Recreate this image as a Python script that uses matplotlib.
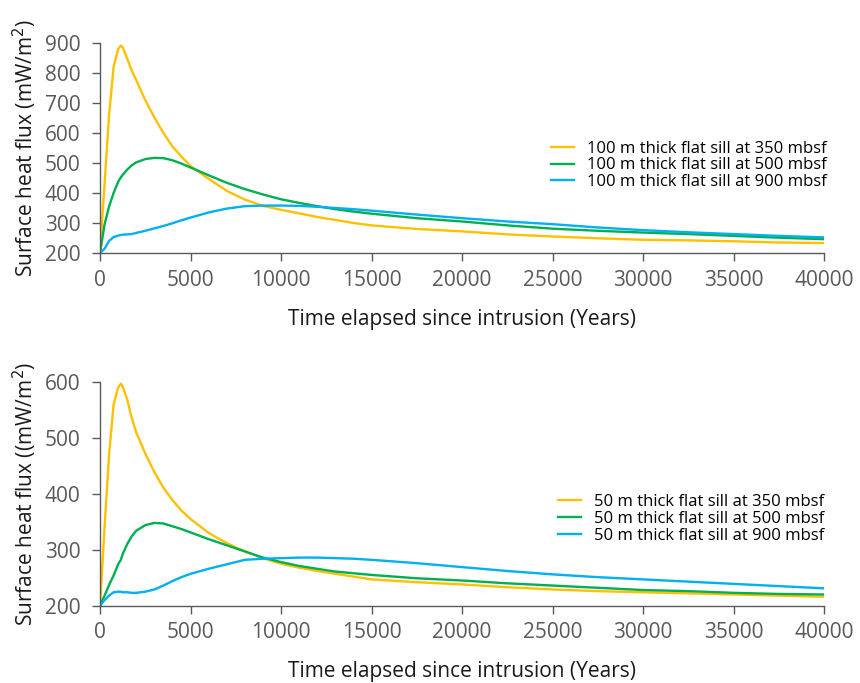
import matplotlib
matplotlib.use("Agg")
import matplotlib.pyplot as plt

plt.rcParams['font.family'] = ['Open Sans', 'DejaVu Sans']

# Time (years since intrusion)
t = [0, 250, 500, 750, 1000, 1150, 1250, 1500, 1750, 2000, 2500, 3000, 3500, 4000,
     4500, 5000, 6000, 7000, 8000, 9000, 10000, 11000, 12000, 13000, 14000, 15000,
     17500, 20000, 22500, 25000, 27500, 30000, 32500, 35000, 37500, 40000]

# 100 m thick sill
sill100_350 = [200, 430, 660, 820, 880, 891, 886, 848, 808, 776, 709, 652, 600, 555,
               521, 490, 447, 407, 378, 357, 344, 332, 320, 310, 300, 292,
               280, 272, 262, 255, 249, 244, 242, 239, 235, 233]
sill100_500 = [200, 295, 355, 400, 437, 452, 460, 478, 492, 502, 513, 517, 516, 509,
               498, 485, 459, 434, 413, 395, 379, 367, 356, 346, 338, 331,
               316, 305, 292, 281, 274, 268, 263, 257, 251, 246]
sill100_900 = [200, 214, 240, 253, 258, 260, 261, 262, 263, 267, 274, 282, 290, 299,
               309, 318, 335, 348, 356, 358, 358, 357, 354, 350, 346, 341,
               328, 316, 305, 296, 285, 276, 269, 263, 257, 252]

# 50 m thick sill
sill50_350 = [200, 340, 470, 560, 590, 597, 592, 569, 536, 510, 472, 439, 411, 389,
              370, 355, 330, 312, 297, 285, 275, 268, 262, 257, 252, 247,
              242, 238, 233, 229, 226, 224, 222, 220, 218, 216]
sill50_500 = [200, 218, 237, 254, 274, 282, 292, 310, 324, 334, 344, 348, 347, 342,
              337, 331, 319, 308, 297, 286, 278, 271, 266, 261, 258, 255,
              249, 245, 240, 236, 232, 228, 226, 223, 221, 220]
sill50_900 = [200, 210, 218, 224, 225, 225, 224, 224, 223, 223, 225, 229, 236, 244,
              251, 257, 266, 274, 282, 284, 285, 286, 286, 285, 284, 282,
              276, 269, 262, 256, 251, 247, 243, 239, 235, 231]

labels100 = ["100 m thick flat sill at 350 mbsf", "100 m thick flat sill at 500 mbsf",
             "100 m thick flat sill at 900 mbsf"]
labels50 = ["50 m thick flat sill at 350 mbsf", "50 m thick flat sill at 500 mbsf",
            "50 m thick flat sill at 900 mbsf"]
colors = ["#FFC000", "#00B050", "#00B0F0"]

xlabel = "Time elapsed since intrusion (Years)"
ylabel_top = "Surface heat flux (mW/m$^2$)"
ylabel_bot = "Surface heat flux ((mW/m$^2$)"

fig = plt.figure(figsize=(8.6, 6.83), dpi=100)
ax1 = fig.add_axes([0.1163, 0.6296, 0.842, 0.3075])
ax2 = fig.add_axes([0.1163, 0.1132, 0.842, 0.3275])

grey = "#595959"

def style(ax, ylim, yticks, ylabel):
    ax.set_xlim(0, 40000)
    ax.set_ylim(*ylim)
    ax.set_xticks(range(0, 40001, 5000))
    ax.set_yticks(yticks)
    for s in ["top", "right"]:
        ax.spines[s].set_visible(False)
    for s in ["left", "bottom"]:
        ax.spines[s].set_color(grey)
        ax.spines[s].set_linewidth(1.0)
    ax.tick_params(axis="both", colors=grey, labelsize=15, length=6, width=1.0,
                   direction="out", labelcolor=grey)
    ax.tick_params(axis="y", pad=8)
    ax.tick_params(axis="x", pad=6)
    ax.set_xlabel(xlabel, fontsize=15, color="#1a1a1a", labelpad=13)
    ax.set_ylabel(ylabel, fontsize=15, color="#1a1a1a", labelpad=4)

for y, c, l in zip([sill100_350, sill100_500, sill100_900], colors, labels100):
    ax1.plot(t, y, color=c, lw=1.7, label=l)
for y, c, l in zip([sill50_350, sill50_500, sill50_900], colors, labels50):
    ax2.plot(t, y, color=c, lw=1.7, label=l)

style(ax1, (200, 900), range(200, 901, 100), ylabel_top)
style(ax2, (200, 600), range(200, 601, 100), ylabel_bot)

leg_kw = dict(frameon=False, fontsize=12, handlelength=1.4, handletextpad=0.75,
              labelspacing=0.05, borderpad=0, borderaxespad=0, loc="upper right")
ax1.legend(bbox_to_anchor=(1.003, 0.535), **leg_kw)
ax2.legend(bbox_to_anchor=(1.0, 0.5), **leg_kw)

fig.savefig("out.png", dpi=100)
